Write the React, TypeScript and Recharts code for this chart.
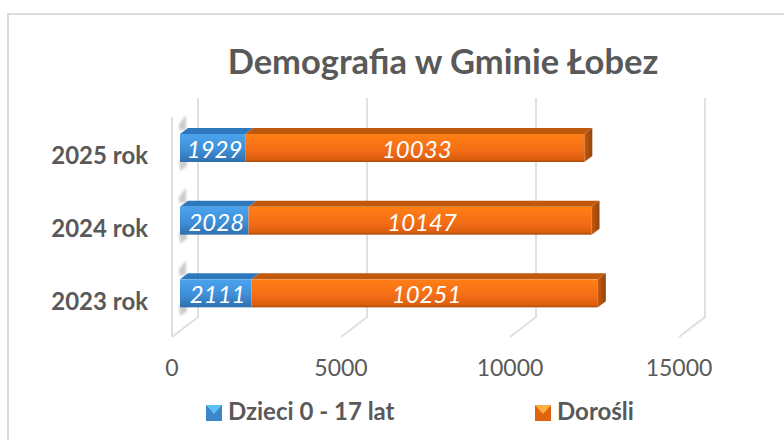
import React from "react";
import { BarChart, Bar, XAxis, YAxis, Legend, LabelList, CartesianGrid } from "recharts";

const years = ["2025 rok", "2024 rok", "2023 rok"];
const children = [1929, 2028, 2111];
const adults = [10033, 10147, 10251];
const xTicks = [0, 5000, 10000, 15000];
const seriesNames = ["Dzieci 0 - 17 lat", "Dorośli"];
const titleText = "Demografia w Gminie Łobez";

const data = years.map((y, i) => ({ year: y, children: children[i], adults: adults[i] }));
const FONT = "Lato, 'Open Sans', sans-serif";
const DEPTH = 8;
const BEVEL = 6;

const Defs = () => (
  <defs>
    <linearGradient id="blueFace" x1="0" y1="0" x2="0" y2="1">
      <stop offset="0" stopColor="#4aa3ee" />
      <stop offset="0.55" stopColor="#3f8fd8" />
      <stop offset="1" stopColor="#2f6fae" />
    </linearGradient>
    <linearGradient id="orangeFace" x1="0" y1="0" x2="0" y2="1">
      <stop offset="0" stopColor="#ff7f17" />
      <stop offset="0.6" stopColor="#f36c14" />
      <stop offset="0.9" stopColor="#dc5f10" />
      <stop offset="1" stopColor="#a84a10" />
    </linearGradient>
    <linearGradient id="orangeEnd" x1="0" y1="0" x2="1" y2="0">
      <stop offset="0" stopColor="#c9590f" />
      <stop offset="1" stopColor="#8f4512" />
    </linearGradient>
    <filter id="soft" x="-30%" y="-30%" width="160%" height="160%">
      <feGaussianBlur stdDeviation="1.2" />
    </filter>
    <filter id="slight" x="-5%" y="-20%" width="110%" height="140%">
      <feGaussianBlur stdDeviation="0.4" />
    </filter>
  </defs>
);

const BlueBar = (p: any) => {
  const { x, y, width, height } = p;
  return (
    <g filter="url(#slight)">
      <polygon
        points={`${x - 1},${y - 4} ${x + 6},${y - 13} ${x + 6},${y + 2} ${x - 1},${y + 2}`}
        fill="#9a9a9a"
        opacity={0.5}
        filter="url(#soft)"
      />
      <polygon
        points={`${x - 1},${y + height - 2} ${x + 7},${y + height - 2} ${x + 7},${y + height + 4} ${x},${y + height + 9}`}
        fill="#9a9a9a"
        opacity={0.5}
        filter="url(#soft)"
      />
      <polygon
        points={`${x},${y + BEVEL} ${x + DEPTH},${y} ${x + width + DEPTH},${y} ${x + width},${y + BEVEL}`}
        fill="#2f78bd"
      />
      <rect x={x} y={y + BEVEL} width={width} height={height - BEVEL} fill="url(#blueFace)" />
    </g>
  );
};

const OrangeBar = (p: any) => {
  const { x, y, width, height } = p;
  const r = x + width;
  return (
    <g filter="url(#slight)">
      <polygon
        points={`${x},${y + BEVEL} ${x + DEPTH},${y} ${r + DEPTH},${y} ${r},${y + BEVEL}`}
        fill="#bf5a10"
      />
      <rect x={x} y={y + BEVEL} width={width} height={height - BEVEL} fill="url(#orangeFace)" />
      <polygon
        points={`${r},${y + BEVEL} ${r + DEPTH},${y} ${r + DEPTH},${y + height - BEVEL} ${r},${y + height}`}
        fill="url(#orangeEnd)"
      />
    </g>
  );
};

const GridLine = (p: any) => {
  const x = p.x1;
  const floorY = 337;
  const backY = 317;
  const topY = 98;
  const fx = x - 8;
  const bx = x + 18;
  const stroke = "#e0e0e0";
  return (
    <g>
      <polyline points={`${fx},${floorY} ${bx},${backY} ${bx},${topY}`} fill="none" stroke={stroke} strokeWidth={2} />
      {p.index === 0 && <line x1={fx} y1={floorY} x2={fx} y2={117} stroke={stroke} strokeWidth={2} />}
    </g>
  );
};

const XTick = (p: any) => {
  const { x, payload } = p;
  return (
    <text x={x - 8} y={376} textAnchor="middle" fontFamily={FONT} fontSize={23} fill="#595959">
      {payload.value}
    </text>
  );
};

const YTick = (p: any) => {
  const { y, payload } = p;
  return (
    <text x={148} y={y + 19} textAnchor="end" fontFamily={FONT} fontSize={24} fontWeight={700} fill="#595959">
      {payload.value}
    </text>
  );
};

const renderValue = (p: any) => {
  const { x, y, width, height, value } = p;
  return (
    <text
      x={x + width / 2 + 2}
      y={y + height / 2 + 13}
      textAnchor="middle"
      fontFamily={FONT}
      fontStyle="italic"
      fontSize={24}
      fill="#ffffff"
    >
      {value}
    </text>
  );
};

const swatchColors = ["#3c86cc", "#e0630f"];
const swatchTops = ["#5cc0f5", "#fbb040"];
const legendX = [206, 535];

const LegendContent = () => (
  <svg width={784} height={40} style={{ display: "block", overflow: "visible" }}>
    {seriesNames.map((name, i) => (
      <g key={name}>
        <rect x={legendX[i]} y={8} width={16} height={16} fill={swatchColors[i]} />
        <polygon
          points={`${legendX[i]},8 ${legendX[i] + 16},8 ${legendX[i] + 8},17`}
          fill={swatchTops[i]}
        />
        <text x={legendX[i] + 22} y={23} fontFamily={FONT} fontWeight={700} fontSize={24} fill="#595959">
          {name}
        </text>
      </g>
    ))}
  </svg>
);

export default function App() {
  return (
    <div style={{ position: "absolute", left: 0, top: 0, width: 784, height: 440, background: "#fff", overflow: "hidden" }}>
      <div
        style={{
          position: "absolute",
          left: 7,
          top: 13,
          width: 800,
          height: 440,
          border: "2px solid #dcdcdc",
          boxSizing: "border-box",
        }}
      />
      <BarChart
        width={784}
        height={440}
        layout="vertical"
        data={data}
        barSize={34}
        margin={{ top: 109, right: 97, bottom: 0, left: 0 }}
        style={{ position: "absolute", left: 0, top: 0 }}
      >
        <Defs />
        <text x={443} y={74} textAnchor="middle" fontFamily={FONT} fontWeight={700} fontSize={34.5} fill="#595959">
          {titleText}
        </text>
        <CartesianGrid horizontal={false} vertical={(p: any) => <GridLine key={p.index} {...p} />} syncWithTicks />
        <XAxis
          type="number"
          domain={[0, 15000]}
          ticks={xTicks}
          height={73}
          axisLine={false}
          tickLine={false}
          tick={<XTick />}
          interval={0}
        />
        <YAxis type="category" dataKey="year" width={180} axisLine={false} tickLine={false} tick={<YTick />} interval={0} />
        <Legend
          verticalAlign="bottom"
          content={<LegendContent />}
          wrapperStyle={{ left: 0, top: 397, width: 784, height: 40 }}
        />
        <Bar dataKey="children" name={seriesNames[0]} stackId="a" fill="#3c86cc" shape={<BlueBar />} isAnimationActive={false}>
          <LabelList dataKey="children" content={renderValue} />
        </Bar>
        <Bar dataKey="adults" name={seriesNames[1]} stackId="a" fill="#e0630f" shape={<OrangeBar />} isAnimationActive={false}>
          <LabelList dataKey="adults" content={renderValue} />
        </Bar>
      </BarChart>
    </div>
  );
}
